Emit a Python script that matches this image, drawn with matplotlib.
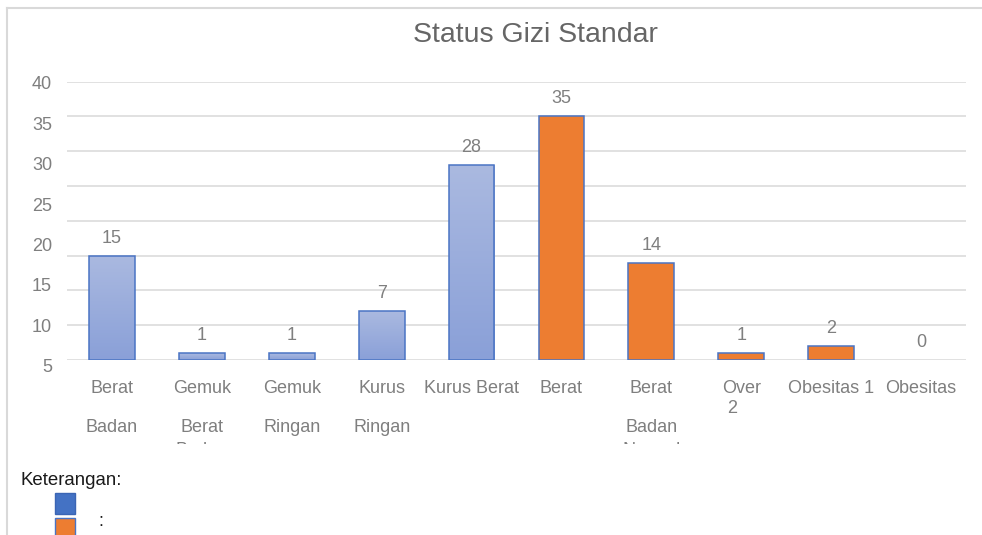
import numpy as np
import matplotlib.pyplot as plt
from matplotlib.colors import LinearSegmentedColormap
from matplotlib.lines import Line2D
from matplotlib.patches import Rectangle
from matplotlib.transforms import Bbox, TransformedBbox, blended_transform_factory

plt.rcParams['font.family'] = ['Liberation Sans', 'DejaVu Sans']

# data
categories = ["Berat\nBadan", "Gemuk\nBerat\nBadan", "Gemuk\nRingan", "Kurus\nRingan",
              "Kurus Berat", "Berat", "Berat\nBadan\nNormal", "Over\n2",
              "Obesitas 1", "Obesitas"]
values = [15, 1, 1, 7, 28, 35, 14, 1, 2, 0]
groups = ["blue"] * 5 + ["orange"] * 5
ytick_labels = [40, 35, 30, 25, 20, 15, 10, 5]

W, H = 982, 535
TEXT_GRAY = '#7f7f7f'


def fx(px):
    return px / W


def fy(py):
    return 1 - py / H


fig = plt.figure(figsize=(W / 100, H / 100), dpi=100)
ax = fig.add_axes([fx(67), fy(360), (966 - 67) / W, (360 - 81.7) / H])

x = np.arange(len(values))
ax.set_yticks(np.arange(0, 41, 5))
ax.yaxis.grid(True, color='#d9d9d9', linewidth=1.1)
ax.set_axisbelow(True)
ax.tick_params(left=False, labelleft=False, bottom=False, labelbottom=False)
for s in ax.spines.values():
    s.set_visible(False)

faces = ['none' if g == "blue" else '#ed7d31' for g in groups]
bars = ax.bar(x, values, width=0.51, color=faces, edgecolor='#4a74c4',
              linewidth=1.1, zorder=3)

# gradient fill for the blue bars, no outline for empty bars
cmap = LinearSegmentedColormap.from_list('bluegrad', ['#8aa0d8', '#aab9e0'])
grad = np.linspace(0, 1, 100).reshape(-1, 1)
for b, g in zip(bars, groups):
    if b.get_height() == 0:
        b.set_linewidth(0)
        continue
    if g != "blue":
        continue
    x0 = b.get_x()
    im = ax.imshow(grad, cmap=cmap, origin='lower', aspect='auto',
                   extent=[x0, x0 + b.get_width(), 0, b.get_height()], zorder=2.5)
    im.set_clip_path(b)
ax.set_xlim(-0.5, len(values) - 0.5)
ax.set_ylim(0, 40)

# value labels
for xi, v in zip(x, values):
    ax.annotate(str(v), xy=(xi, v), xytext=(0, 13), textcoords='offset pixels',
                ha='center', va='baseline', fontsize=13, color=TEXT_GRAY)

# y labels (shifted, as in the original screenshot)
for lab, yb in zip(ytick_labels, np.linspace(89.3, 372.3, len(ytick_labels))):
    fig.text(fx(52), fy(yb), str(lab), ha='right', va='baseline',
             fontsize=13, color=TEXT_GRAY)

# category labels, wrapped and cut off at the bottom
trans = blended_transform_factory(ax.transData, fig.transFigure)
clip = TransformedBbox(Bbox([[0, fy(444)], [1, 1]]), fig.transFigure)
for xi, lab in zip(x, categories):
    lines = lab.split("\n")
    for j, line in enumerate(lines):
        base = [393.3, 431.7, 455.2][j]
        ha, dx = 'center', 0
        if lab.startswith("Over") and j == 1:
            base, ha, dx = 413.3, 'left', -14
        t = ax.annotate(line, xy=(xi, fy(base)), xycoords=trans, xytext=(dx, 0),
                        textcoords='offset pixels', ha=ha, va='baseline',
                        fontsize=13, color=TEXT_GRAY, annotation_clip=False)
        t.set_clip_box(clip)
        t.set_clip_on(True)

fig.text(fx(535), fy(41.7), "Status Gizi Standar", ha='center', va='baseline',
         fontsize=20.5, color='#666666')

# legend block below the chart
fig.text(fx(20), fy(485), "Keterangan:", ha='left', va='baseline',
         fontsize=13.4, color='#1a1a1a')
fig.patches.append(Rectangle((fx(55), fy(514)), 20 / W, 21 / H,
                             transform=fig.transFigure, facecolor='#4472c4',
                             edgecolor='#3b65b4', linewidth=1))
fig.patches.append(Rectangle((fx(55), fy(545)), 20 / W, (545 - 518.3) / H,
                             transform=fig.transFigure, facecolor='#ed7d31',
                             edgecolor='#4a74c4', linewidth=1))
fig.text(fx(98), fy(526), ":", ha='left', va='baseline', fontsize=13, color='#1a1a1a')

# frame of the screenshot
fig.add_artist(Line2D([fx(7), fx(7)], [fy(8), 0], transform=fig.transFigure,
                      color='#d9d9d9', linewidth=1.5))
fig.add_artist(Line2D([fx(7), 1], [fy(8), fy(8)], transform=fig.transFigure,
                      color='#d9d9d9', linewidth=1.5))

fig.savefig("out.png", dpi=100)
